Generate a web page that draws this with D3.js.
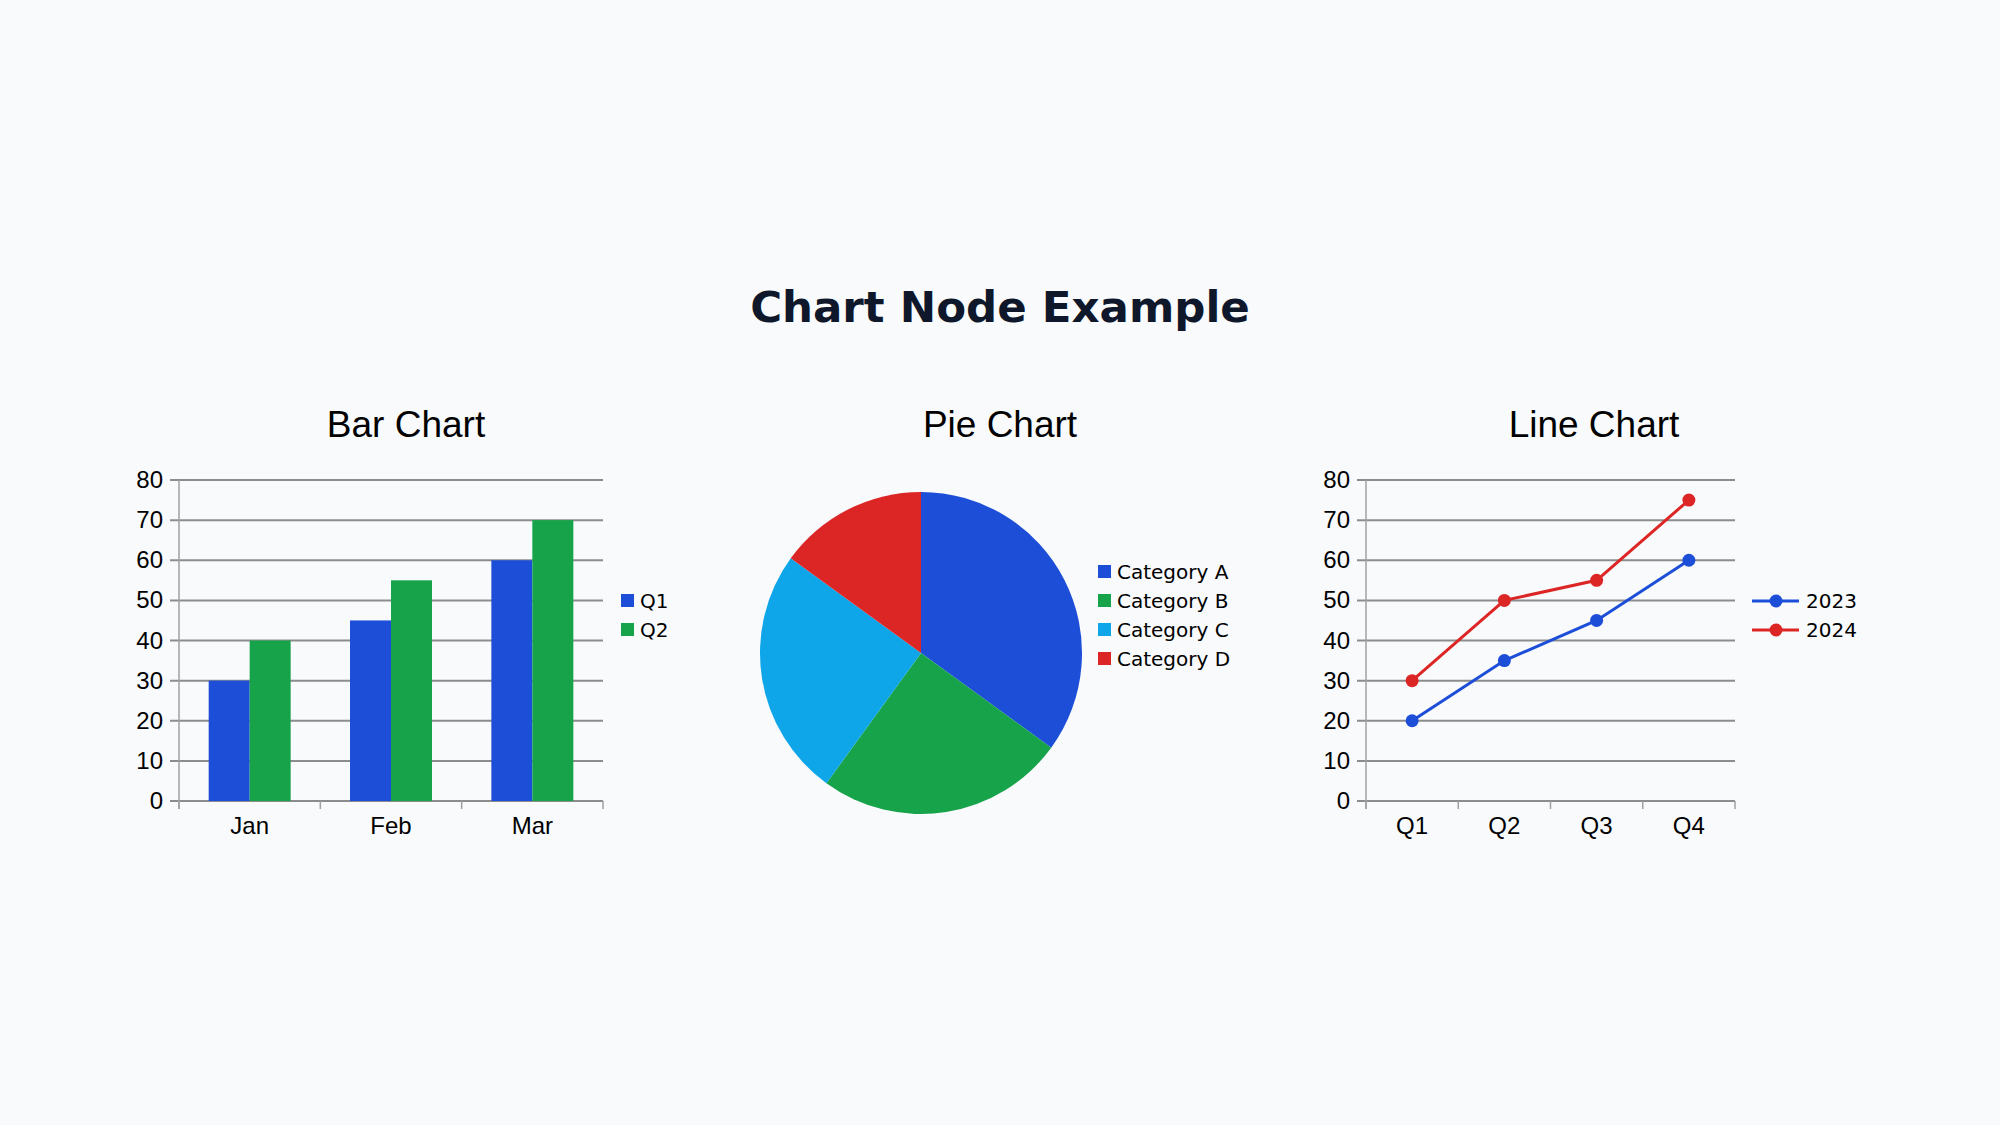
<!DOCTYPE html>
<html>
<head>
<meta charset="utf-8">
<script src="https://d3js.org/d3.v7.min.js"></script>
<style>
  html, body { margin: 0; padding: 0; background: #f8fafc; }
  svg { display: block; }
</style>
</head>
<body>
<svg id="chart" width="2000" height="1125"></svg>
<script>
// data
const barMonths = ["Jan", "Feb", "Mar"];
const barSeries = ["Q1", "Q2"];
const barQ1 = [30, 45, 60];
const barQ2 = [40, 55, 70];

const pieCategories = ["Category A", "Category B", "Category C", "Category D"];
const pieValues = [35, 25, 25, 15];

const lineQuarters = ["Q1", "Q2", "Q3", "Q4"];
const lineSeries = ["2023", "2024"];
const line2023 = [20, 35, 45, 60];
const line2024 = [30, 50, 55, 75];

const yTicks = [0, 10, 20, 30, 40, 50, 60, 70, 80];

const BLUE = "#1d4ed8", GREEN = "#16a34a", SKY = "#0ea5e9", RED = "#dc2626";
const GRID = "#8c8c8c";
const labelFont = "'Liberation Sans', Arial, sans-serif";
const legendFont = "'DejaVu Sans', sans-serif";

const svg = d3.select("#chart");

// main title
svg.append("text")
    .attr("x", 1000).attr("y", 322)
    .attr("text-anchor", "middle")
    .style("font-family", "'DejaVu Sans', sans-serif")
    .style("font-weight", "bold")
    .style("font-size", "43.5px")
    .style("fill", "#0f172a")
    .text("Chart Node Example");

function subTitle(x, txt) {
    svg.append("text")
        .attr("x", x).attr("y", 437)
        .attr("text-anchor", "middle")
        .style("font-family", labelFont)
        .style("font-size", "37px")
        .style("fill", "#000")
        .text(txt);
}

// shared y + grid/axes helper
const yTop = 480, yBottom = 801;
const y = d3.scaleLinear().domain([0, 80]).range([yBottom, yTop]);

function drawFrame(g, x0, x1, xScale) {
    // gridlines
    g.selectAll("line.grid").data(yTicks).join("line")
        .attr("class", "grid")
        .attr("x1", x0 - 9).attr("x2", x1)
        .attr("y1", d => y(d)).attr("y2", d => y(d))
        .attr("stroke", GRID).attr("stroke-width", 2);
    // y axis
    g.append("line")
        .attr("x1", x0).attr("x2", x0)
        .attr("y1", yTop).attr("y2", yBottom + 8)
        .attr("stroke", "#a0a0a0").attr("stroke-width", 1.5);
    // y labels
    g.selectAll("text.ylab").data(yTicks).join("text")
        .attr("class", "ylab")
        .attr("x", x0 - 16).attr("y", d => y(d) + 8)
        .attr("text-anchor", "end")
        .style("font-family", labelFont).style("font-size", "24px")
        .text(d => d);
    // x ticks at band edges
    const edges = xScale.domain().map(d => xScale(d)).concat([x1]);
    g.selectAll("line.xtick").data(edges).join("line")
        .attr("class", "xtick")
        .attr("x1", d => d).attr("x2", d => d)
        .attr("y1", yBottom).attr("y2", yBottom + 8)
        .attr("stroke", "#a0a0a0").attr("stroke-width", 1.5);
    g.selectAll("text.xlab").data(xScale.domain()).join("text")
        .attr("class", "xlab")
        .attr("x", d => xScale(d) + xScale.bandwidth() / 2)
        .attr("y", 834)
        .attr("text-anchor", "middle")
        .style("font-family", labelFont).style("font-size", "24px")
        .text(d => d);
}

function legend(x, yStart, names, colors, lineStyle) {
    const lg = svg.append("g");
    names.forEach((n, i) => {
        const cy = yStart + i * 29;
        if (lineStyle) {
            lg.append("line")
                .attr("x1", x).attr("x2", x + 47).attr("y1", cy).attr("y2", cy)
                .attr("stroke", colors[i]).attr("stroke-width", 3);
            lg.append("circle").attr("cx", x + 24).attr("cy", cy).attr("r", 6.5).attr("fill", colors[i]);
            lg.append("text").attr("x", x + 54).attr("y", cy + 7)
                .style("font-family", legendFont).style("font-size", "20px").text(n);
        } else {
            lg.append("rect").attr("x", x).attr("y", cy - 7).attr("width", 13).attr("height", 13)
                .attr("fill", colors[i]);
            lg.append("text").attr("x", x + 19).attr("y", cy + 7)
                .style("font-family", legendFont).style("font-size", "20px").text(n);
        }
    });
}

// ---- Bar chart
subTitle(406, "Bar Chart");
const barG = svg.append("g");
const bx = d3.scaleBand().domain(barMonths).range([179, 603]);
drawFrame(barG, 179, 603, bx);
const bx1 = d3.scaleBand().domain(barSeries)
    .range([bx.bandwidth() * 0.21, bx.bandwidth() * 0.79]);
const barVals = [barQ1, barQ2];
const barColors = [BLUE, GREEN];
barSeries.forEach((s, si) => {
    barG.selectAll("rect.s" + si).data(barMonths).join("rect")
        .attr("class", "s" + si)
        .attr("x", d => bx(d) + bx1(s))
        .attr("width", bx1.bandwidth())
        .attr("y", (d, i) => y(barVals[si][i]))
        .attr("height", (d, i) => y(0) - y(barVals[si][i]))
        .attr("fill", barColors[si]);
});
legend(621, 601, barSeries, barColors, false);

// ---- Pie chart
subTitle(1000, "Pie Chart");
const pieColors = [BLUE, GREEN, SKY, RED];
const pie = d3.pie().sort(null).value(d => d)(pieValues);
const arc = d3.arc().innerRadius(0).outerRadius(161);
svg.append("g").attr("transform", "translate(921,653)")
    .selectAll("path").data(pie).join("path")
    .attr("d", arc)
    .attr("fill", (d, i) => pieColors[i]);
legend(1098, 572, pieCategories, pieColors, false);

// ---- Line chart
subTitle(1594, "Line Chart");
const lineG = svg.append("g");
const lx = d3.scaleBand().domain(lineQuarters).range([1366, 1735]);
drawFrame(lineG, 1366, 1735, lx);
const lineColors = [BLUE, RED];
[line2023, line2024].forEach((vals, si) => {
    const pts = vals.map((v, i) => [lx(lineQuarters[i]) + lx.bandwidth() / 2, y(v)]);
    lineG.append("path")
        .attr("d", d3.line()(pts))
        .attr("fill", "none").attr("stroke", lineColors[si]).attr("stroke-width", 3);
    lineG.selectAll("circle.s" + si).data(pts).join("circle")
        .attr("class", "s" + si)
        .attr("cx", d => d[0]).attr("cy", d => d[1]).attr("r", 6.5)
        .attr("fill", lineColors[si]);
});
legend(1752, 601, lineSeries, lineColors, true);
</script>
</body>
</html>
